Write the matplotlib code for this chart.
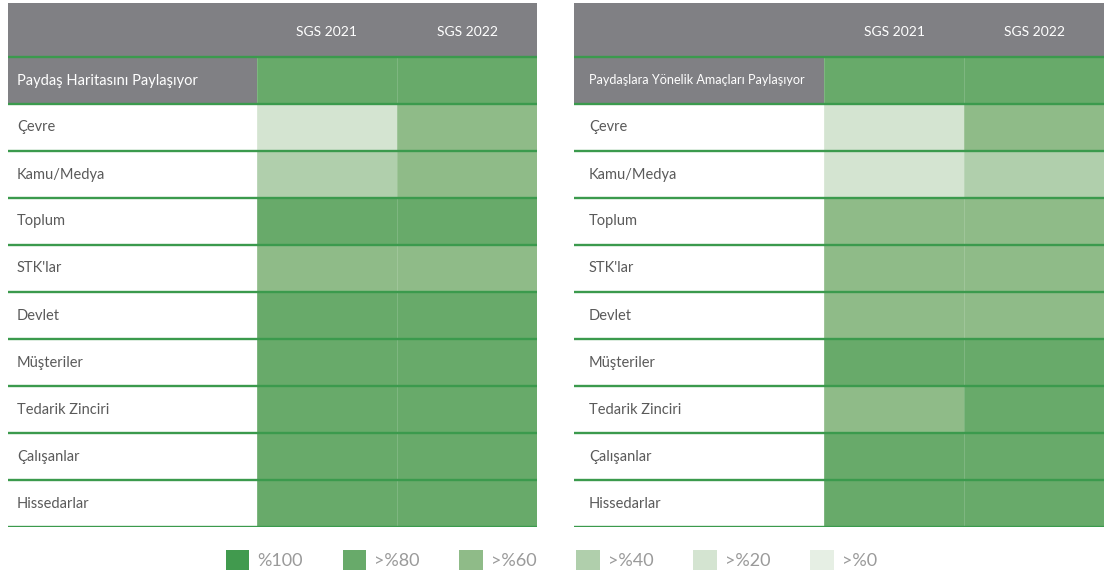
import matplotlib
matplotlib.use("Agg")
import matplotlib.pyplot as plt
from matplotlib.colors import ListedColormap, BoundaryNorm
from matplotlib.patches import Rectangle, Patch
import numpy as np

# ---- data -------------------------------------------------------------
years = ["SGS 2021", "SGS 2022"]
stakeholders = ["Çevre", "Kamu/Medya", "Toplum", "STK'lar", "Devlet",
                "Müşteriler", "Tedarik Zinciri", "Çalışanlar", "Hissedarlar"]
left_title = "Paydaş Haritasını Paylaşıyor"
right_title = "Paydaşlara Yönelik Amaçları Paylaşıyor"

level_labels = ["%100", ">%80", ">%60", ">%40", ">%20", ">%0"]
level_colors = ["#419a4e", "#68aa6a", "#8fbb88", "#b0cfac", "#d4e4d1", "#e6efe4"]

# level index (0 = %100 ... 5 = >%0); first entry is the title row
left_2021 = [1, 4, 3, 1, 2, 1, 1, 1, 1, 1]
left_2022 = [1, 2, 2, 1, 2, 1, 1, 1, 1, 1]
right_2021 = [1, 4, 4, 2, 2, 2, 1, 2, 1, 1]
right_2022 = [1, 2, 3, 2, 2, 2, 1, 1, 1, 1]

# ---- style ------------------------------------------------------------
HEADER_GREY = "#808084"
LINE_GREEN = "#3b9a4d"
LABEL_COLOR = "#5a5a5a"
LABEL_FONT = ["Lato", "DejaVu Sans"]

W, H = 1105, 578
fig = plt.figure(figsize=(W / 100, H / 100), dpi=100)

cmap = ListedColormap(level_colors)
norm = BoundaryNorm(np.arange(-0.5, len(level_colors) + 0.5, 1), cmap.N)

COL_W = 140.0   # px per year column
ROW_H = 47.0    # px per row
HEAD_H = 54.0   # px header band


def panel(x0, label_w, pad, title, title_size, v2021, v2022):
    top, bottom = 3, 527
    ax = fig.add_axes([x0 / W, (H - bottom) / H,
                       (label_w + 2 * COL_W) / W, (bottom - top) / H])
    lw = label_w / COL_W
    hh = HEAD_H / ROW_H
    nrows = len(v2021)
    ax.set_xlim(-lw, 2)
    ax.set_ylim(nrows, -hh)
    ax.axis("off")

    # header band and grey title cell
    ax.add_patch(Rectangle((-lw, -hh), lw + 2, hh, color=HEADER_GREY, lw=0))
    ax.add_patch(Rectangle((-lw, 0), lw, 1, color=HEADER_GREY, lw=0))

    # coloured level cells
    C = np.column_stack([v2021, v2022])
    ax.pcolormesh(np.arange(3), np.arange(nrows + 1), C, cmap=cmap, norm=norm,
                  edgecolors=(1, 1, 1, 0.15), linewidth=0.5)

    # green row separators
    ax.hlines(np.arange(nrows + 1), -lw, 2, colors=LINE_GREEN, linewidth=1.7)

    # texts
    for i, y in enumerate(years):
        ax.text(i + 0.5, -hh / 2 + 0.05, y, color="white", ha="center",
                va="center", fontsize=10, family=LABEL_FONT)
    px = pad / COL_W
    ax.text(-lw + px, 0.5, title, color="white", ha="left", va="center",
            fontsize=title_size, family=LABEL_FONT)
    for r, name in enumerate(stakeholders, start=1):
        ax.text(-lw + px, r + 0.5, name, color=LABEL_COLOR, ha="left",
                va="center", fontsize=10.5, family=LABEL_FONT)
    return ax


panel(8, 249, 9, left_title, 10.5, left_2021, left_2022)
panel(574, 250, 15, right_title, 9.1, right_2021, right_2022)

# legend
handles = [Patch(facecolor=c, edgecolor="none") for c in level_colors]
leg = fig.legend(handles, level_labels, loc="center", ncol=6,
                 bbox_to_anchor=(0.499, (H - 560) / H), frameon=False,
                 prop={"family": ["Lato", "DejaVu Sans"], "size": 13},
                 handlelength=1.3, handleheight=1.3, handletextpad=0.45,
                 columnspacing=2.2, borderaxespad=0)
for t in leg.get_texts():
    t.set_color("#9a9a9a")

fig.savefig("out.png", dpi=100, facecolor="white")
